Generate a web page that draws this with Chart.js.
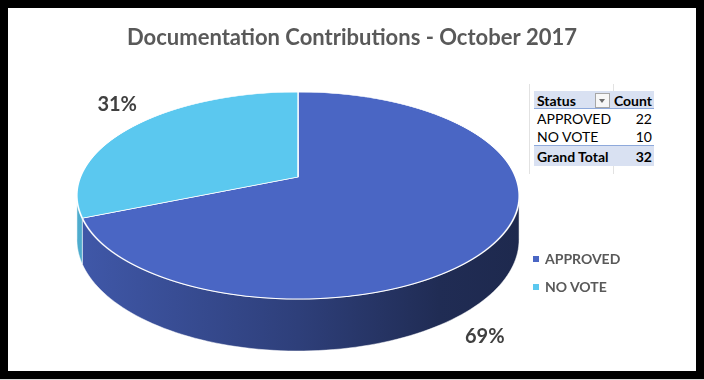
<!DOCTYPE html>
<html>
<head>
<meta charset="utf-8">
<script src="https://cdn.jsdelivr.net/npm/chart.js@4/dist/chart.umd.min.js"></script>
<style>
  html, body { margin:0; padding:0; }
  body { width:704px; height:380px; position:relative; overflow:hidden; background:#fff; font-family: Lato, "Noto Sans", sans-serif; }
  #frame { position:absolute; left:0; top:0; width:688px; height:363px; border:8px solid #000; background:#fff; }
  #shadow { position:absolute; left:0; top:379px; width:704px; height:1px; background:#d9d9d9; }
  #c { position:absolute; left:0; top:0; }
  .grid { position:absolute; width:1px; background:#e2e2e2; }
  #pivot { position:absolute; left:534px; top:91px; width:120px; font-size:14px; color:#000; background:#fff; }
  .row { position:relative; box-sizing:border-box; }
  .row span { position:absolute; top:50%; transform:translateY(-50%); white-space:nowrap; }
  .row .l { left:3px; }
  .row .r { right:2px; }
  .hdr { background:#d9e1f2; font-weight:bold; border-bottom:1px solid #8ea9db; }
  .tot { background:#d9e1f2; font-weight:bold; border-top:1px solid #8ea9db; }
  #dd { position:absolute; left:61px; top:2px; width:13px; height:13px; border:1px solid #a6a6a6; background:#f7f7f7; box-sizing:content-box; }
  #dd:after { content:""; position:absolute; left:3px; top:5px; border-left:3.5px solid transparent; border-right:3.5px solid transparent; border-top:4px solid #6d6d6d; }
  #legend { position:absolute; left:533px; top:249px; font-size:14px; font-weight:bold; color:#595959; }
  .li { position:relative; height:28px; }
  .li i { position:absolute; left:0; top:7px; width:6px; height:6px; }
  .li span { position:absolute; left:12px; top:0; line-height:20px; white-space:nowrap; }
</style>
</head>
<body>
<div id="frame"></div>
<div id="shadow"></div>
<div class="grid" style="left:529px;top:84px;height:90px"></div>
<div class="grid" style="left:613px;top:84px;height:90px"></div>
<canvas id="c" width="704" height="380"></canvas>
<div id="pivot"></div>
<div id="legend"></div>
<script>
// ---- data ----
const titleText = 'Documentation Contributions - October 2017';
const categories = ['APPROVED', 'NO VOTE'];
const counts = [22, 10];
const sliceColors = ['#4a66c4', '#5bc8ef'];
const tableHeader = ['Status', 'Count'];
const totalLabel = 'Grand Total';

// ---- view geometry (perspective of the 3D pie) ----
const V = { cx: 298, cy: 177, rx: 217.5, ry: 100.2, k: 0.1788, depth: 42.7 };
function proj(X, Y) {
  const d = 1 - V.k * Y;
  return { x: V.cx + V.rx * X / d, y: V.cy + V.ry * Y / d, d: d };
}
function invY(yScreen) {
  const t = (yScreen - V.cy) / V.ry;
  return t / (1 + V.k * t);
}
function shade(hex, f) {
  const n = parseInt(hex.slice(1), 16);
  const r = Math.round(((n >> 16) & 255) * f), g = Math.round(((n >> 8) & 255) * f), b = Math.round((n & 255) * f);
  return 'rgb(' + r + ',' + g + ',' + b + ')';
}

const total = counts.reduce((a, b) => a + b, 0);

const pie3d = {
  id: 'pie3d',
  beforeDatasetsDraw(chart) {
    const ctx = chart.ctx;
    const dpr = chart.currentDevicePixelRatio || 1;
    const arcs = chart.getDatasetMeta(0).data;
    if (!arcs.length) return false;
    const ax = arcs[0].x, ay = arcs[0].y, r = arcs[0].outerRadius;
    const halfW = V.rx / Math.sqrt(1 - V.k * V.k);
    // side walls
    const phiMin = Math.asin(V.k), phiMax = Math.PI - Math.asin(V.k);
    ctx.save();
    ctx.setTransform(dpr, 0, 0, dpr, 0, 0);
    arcs.forEach((arc, i) => {
      const base = sliceColors[i];
      const grad = ctx.createLinearGradient(V.cx - halfW, 0, V.cx + halfW, 0);
      grad.addColorStop(0, shade(base, 0.86));
      grad.addColorStop(0.5, shade(base, 0.62));
      grad.addColorStop(0.82, shade(base, 0.43));
      grad.addColorStop(1, shade(base, 0.40));
      for (const off of [-2 * Math.PI, 0, 2 * Math.PI]) {
        const a1 = Math.max(arc.startAngle + off, phiMin);
        const a2 = Math.min(arc.endAngle + off, phiMax);
        if (a2 <= a1) continue;
        const N = 90;
        ctx.beginPath();
        for (let j = 0; j <= N; j++) {
          const p = a1 + (a2 - a1) * j / N;
          const q = proj(Math.cos(p), Math.sin(p));
          if (j === 0) ctx.moveTo(q.x, q.y); else ctx.lineTo(q.x, q.y);
        }
        for (let j = N; j >= 0; j--) {
          const p = a1 + (a2 - a1) * j / N;
          const q = proj(Math.cos(p), Math.sin(p));
          ctx.lineTo(q.x, q.y + V.depth / q.d);
        }
        ctx.closePath();
        ctx.fillStyle = grad;
        ctx.fill();
        ctx.strokeStyle = 'rgba(255,255,255,0.7)';
        ctx.lineWidth = 0.7;
        ctx.stroke();
      }
    });
    ctx.restore();
    // top surface: library arcs warped row by row into perspective
    const yTop = Math.floor(V.cy - V.ry / (1 + V.k)) - 3;
    const yBot = Math.ceil(V.cy + V.ry / (1 - V.k)) + 3;
    for (let y = yTop; y < yBot; y++) {
      const Y0 = invY(y), Y1 = invY(y + 1), Ym = invY(y + 0.5);
      const sx = V.rx / (1 - V.k * Ym) / r;
      const sy = 1 / ((Y1 - Y0) * r);
      ctx.save();
      ctx.setTransform(dpr, 0, 0, dpr, 0, 0);
      ctx.beginPath();
      ctx.rect(0, y, chart.width, 1);
      ctx.clip();
      ctx.setTransform(dpr * sx, 0, 0, dpr * sy, dpr * (V.cx - sx * ax), dpr * (y - sy * (ay + r * Y0)));
      arcs.forEach(a => a.draw(ctx));
      ctx.restore();
    }
    return false;
  },
  afterDraw(chart) {
    const ctx = chart.ctx;
    const arcs = chart.getDatasetMeta(0).data;
    const halfW = V.rx / Math.sqrt(1 - V.k * V.k);
    ctx.save();
    ctx.font = 'bold 20px Lato';
    ctx.fillStyle = '#404040';
    ctx.textAlign = 'center';
    ctx.textBaseline = 'middle';
    arcs.forEach((arc, i) => {
      const m = (arc.startAngle + arc.endAngle) / 2;
      const X = Math.cos(m), Y = Math.sin(m);
      const q = proj(X, Y);
      const x = V.cx + halfW * X + 3;
      const y = Y < 0 ? q.y - 22 : q.y + V.depth / q.d + 50;
      ctx.fillText(Math.round(counts[i] / total * 100) + '%', x, y);
    });
    ctx.restore();
  }
};

new Chart(document.getElementById('c'), {
  type: 'pie',
  data: {
    labels: categories,
    datasets: [{
      data: counts,
      backgroundColor: sliceColors,
      borderColor: '#ffffff',
      borderWidth: 1.1
    }]
  },
  options: {
    responsive: false,
    animation: false,
    events: [],
    layout: { padding: 0 },
    plugins: {
      legend: { display: false },
      tooltip: { enabled: false },
      title: {
        display: true,
        text: titleText,
        color: '#595959',
        font: { family: 'Lato', size: 22, weight: 'bold' },
        padding: { top: 25, bottom: 10 }
      }
    }
  },
  plugins: [pie3d]
});

// pivot table
const pv = document.getElementById('pivot');
function addRow(cls, h, left, right) {
  const d = document.createElement('div');
  d.className = 'row ' + cls;
  d.style.height = h + 'px';
  d.innerHTML = '<span class="l"></span><span class="r"></span>';
  d.children[0].textContent = left;
  d.children[1].textContent = right;
  pv.appendChild(d);
  return d;
}
const hdr = addRow('hdr', 18, tableHeader[0], tableHeader[1]);
const dd = document.createElement('div'); dd.id = 'dd'; hdr.appendChild(dd);
addRow('', 17, categories[0], String(counts[0]));
addRow('', 19, categories[1], String(counts[1]));
addRow('tot', 21, totalLabel, String(total));

// legend
const lg = document.getElementById('legend');
categories.forEach((c, i) => {
  const d = document.createElement('div');
  d.className = 'li';
  d.innerHTML = '<i></i><span></span>';
  d.children[0].style.background = sliceColors[i];
  d.children[1].textContent = c;
  lg.appendChild(d);
});
</script>
</body>
</html>
